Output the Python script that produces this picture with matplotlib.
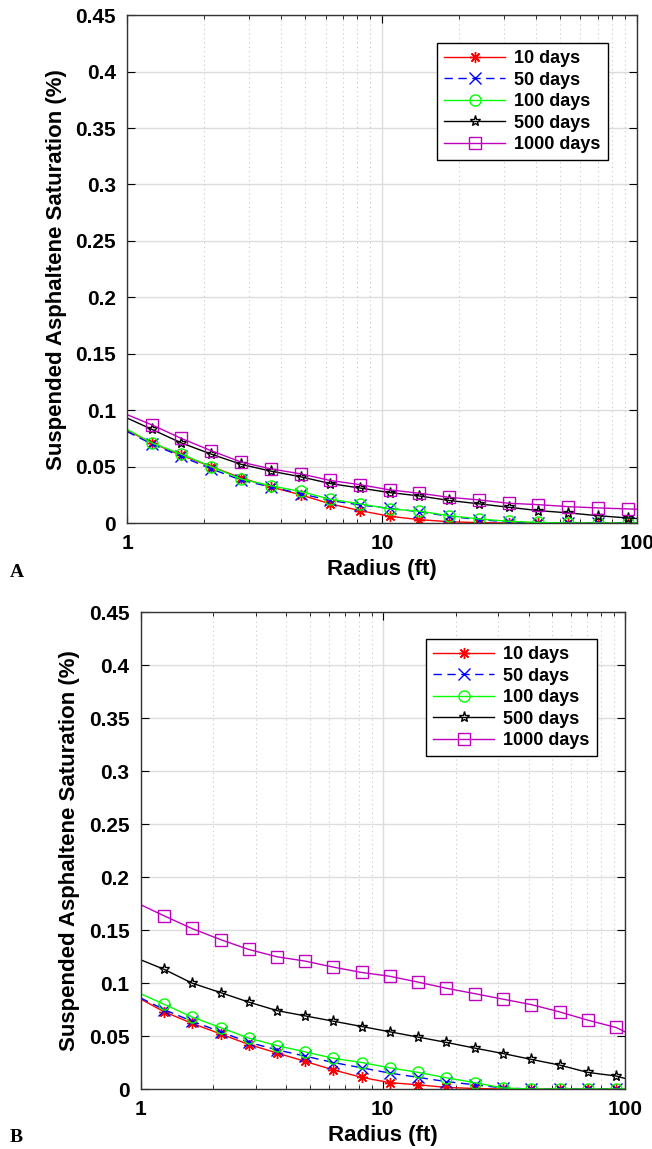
import matplotlib
matplotlib.use("Agg")
import matplotlib.pyplot as plt
from matplotlib.ticker import FixedLocator, NullFormatter

plt.rcParams['font.family'] = ['Liberation Sans', 'DejaVu Sans']
plt.rcParams['font.weight'] = 'bold'

# radius (ft); first and last points sit on the axis edges (no marker there)
radius = [1.0, 1.25, 1.63, 2.14, 2.80, 3.66, 4.79, 6.26, 8.19, 10.7, 14.0,
          18.3, 24.0, 31.4, 41.0, 53.7, 70.2, 91.8, 100.0]

labels = ['10 days', '50 days', '100 days', '500 days', '1000 days']

# panel A
a_10 = [0.082, 0.071, 0.060, 0.050, 0.040, 0.032, 0.025, 0.017, 0.011, 0.006, 0.003,
        0.0012, 0.0003, 0.0, 0.0, 0.0, 0.0, 0.0, 0.0]
a_50 = [0.081, 0.070, 0.059, 0.048, 0.038, 0.032, 0.026, 0.020, 0.016, 0.013, 0.010,
        0.006, 0.003, 0.001, 0.0, 0.0, 0.0, 0.0, 0.0]
a_100 = [0.083, 0.071, 0.061, 0.050, 0.039, 0.033, 0.028, 0.021, 0.017, 0.0125, 0.0105,
         0.0065, 0.0036, 0.0015, 0.0005, 0.0, 0.0, 0.0, 0.0]
a_500 = [0.093, 0.083, 0.071, 0.061, 0.052, 0.046, 0.041, 0.035, 0.031, 0.027, 0.024,
         0.020, 0.017, 0.014, 0.011, 0.009, 0.0065, 0.0045, 0.004]
a_1000 = [0.096, 0.087, 0.075, 0.064, 0.054, 0.048, 0.0436, 0.0377, 0.034, 0.0294, 0.0264,
          0.0228, 0.0205, 0.0175, 0.0163, 0.0145, 0.0134, 0.0125, 0.0122]

# panel B
b_10 = [0.085, 0.073, 0.062, 0.052, 0.042, 0.034, 0.026, 0.018, 0.011, 0.006, 0.004,
        0.0015, 0.0005, 0.0, 0.0, 0.0, 0.0, 0.0, 0.0]
b_50 = [0.086, 0.075, 0.064, 0.054, 0.044, 0.037, 0.031, 0.025, 0.020, 0.015, 0.011,
        0.007, 0.004, 0.001, 0.0, 0.0, 0.0, 0.0, 0.0]
b_100 = [0.090, 0.080, 0.068, 0.058, 0.048, 0.041, 0.035, 0.029, 0.025, 0.020, 0.0157,
         0.0106, 0.006, 0.001, 0.0, 0.0, 0.0, 0.0, 0.0]
b_500 = [0.122, 0.113, 0.100, 0.091, 0.082, 0.074, 0.069, 0.064, 0.059, 0.054, 0.049,
         0.044, 0.0386, 0.0335, 0.028, 0.0226, 0.0157, 0.0123, 0.010]
b_1000 = [0.174, 0.1635, 0.1515, 0.141, 0.1317, 0.1248, 0.1207, 0.115, 0.110, 0.1064, 0.1009,
          0.0951, 0.090, 0.0848, 0.0797, 0.0728, 0.065, 0.0581, 0.054]

styles = [
    dict(color='r', ls='-', marker=(8, 2, 0), mfc='r'),
    dict(color='b', ls=(0, (6, 4)), marker='x', mfc='b'),
    dict(color='#00ff00', ls='-', marker='o', mfc='none'),
    dict(color='k', ls='-', marker='*', mfc='none'),
    dict(color='m', ls='-', marker='s', mfc='none'),
]

fig = plt.figure(figsize=(6.52, 11.49), dpi=100)
ax_a = fig.add_axes([0.195, 0.5448, 0.782, 0.442])
ax_b = fig.add_axes([0.2155, 0.0522, 0.743, 0.415])

for ax, series in [(ax_a, [a_10, a_50, a_100, a_500, a_1000]),
                   (ax_b, [b_10, b_50, b_100, b_500, b_1000])]:
    for vals, lab, st in zip(series, labels, styles):
        ax.plot(radius, vals, lw=1, label=lab, markersize=8, markeredgewidth=1,
                markevery=slice(1, len(radius) - 1), color=st['color'], ls=st['ls'],
                marker=st['marker'], mfc=st['mfc'], mec=st['color'])
    ax.set_xscale('log')
    ax.set_xlim(1, 100)
    ax.set_ylim(0, 0.45)
    ax.set_xticks([1, 10, 100])
    ax.set_xticklabels(['1', '10', '100'])
    ax.set_yticks([0, 0.05, 0.1, 0.15, 0.2, 0.25, 0.3, 0.35, 0.4, 0.45])
    ax.set_yticklabels(['0', '0.05', '0.1', '0.15', '0.2', '0.25', '0.3', '0.35', '0.4', '0.45'])
    ax.xaxis.set_minor_locator(FixedLocator([2, 3, 4, 5, 6, 7, 8, 9, 20, 30, 40, 50, 60, 70, 80, 90]))
    ax.xaxis.set_minor_formatter(NullFormatter())
    ax.grid(True, which='major', color='#dcdcdc', lw=1, ls='-')
    ax.grid(True, which='minor', axis='x', color='#c8c8c8', lw=0.8, ls=(0, (1, 3)))
    ax.set_axisbelow(True)
    ax.tick_params(which='both', direction='in', top=True, right=True, labelsize=15, pad=8)
    ax.tick_params(which='major', length=6)
    ax.tick_params(which='minor', length=3)
    for sp in ax.spines.values():
        sp.set_color('#333333')
        sp.set_linewidth(1)
    ax.set_xlabel('Radius (ft)', fontsize=16, fontweight='bold', labelpad=4)
    ax.set_ylabel('Suspended Asphaltene Saturation (%)', fontsize=16, fontweight='bold', labelpad=6)
    leg = ax.legend(loc='upper right', bbox_to_anchor=(0.961, 0.963), fontsize=13,
                    handlelength=3.4, labelspacing=0.25, borderpad=0.4, handletextpad=0.5,
                    fancybox=False, framealpha=1, edgecolor='k')
    leg.get_frame().set_linewidth(1)

fig.text(0.015, 0.498, 'A', fontsize=14, fontweight='bold', family='Liberation Serif')
fig.text(0.015, 0.006, 'B', fontsize=14, fontweight='bold', family='Liberation Serif')

fig.savefig('out.png', dpi=100)
